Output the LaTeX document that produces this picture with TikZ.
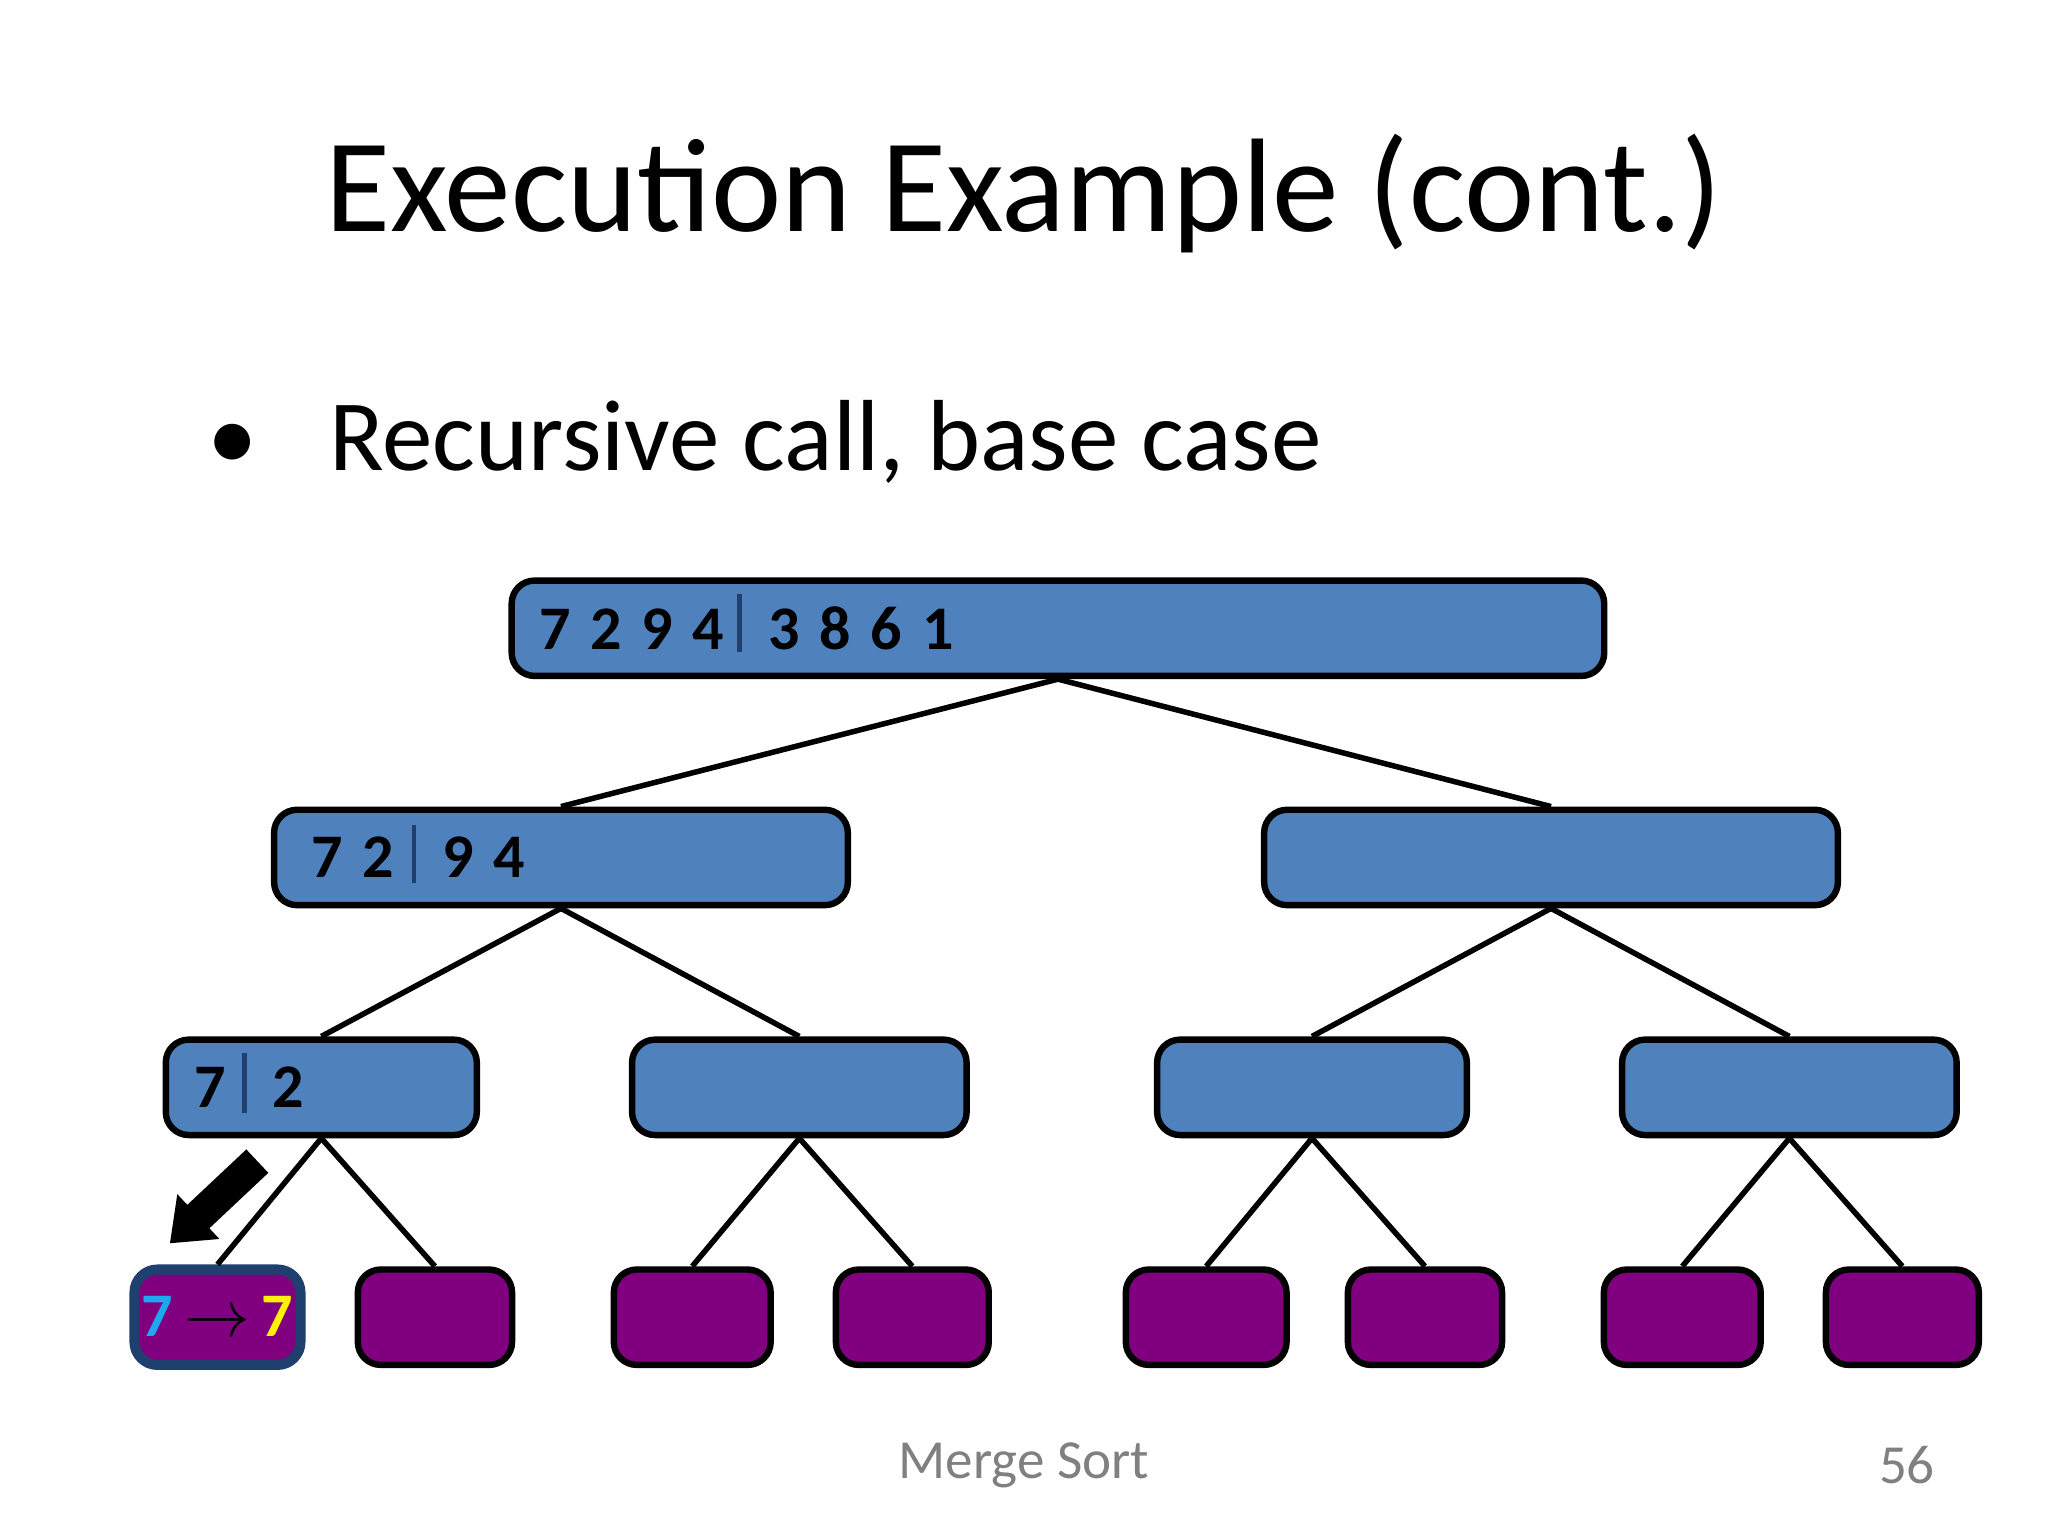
\documentclass[tikz,border=0pt]{standalone}
\usepackage{fontspec}
\setmainfont{Carlito}
\usetikzlibrary{arrows.meta}
\definecolor{boxblue}{HTML}{4F81BD}
\definecolor{leafpurple}{HTML}{800080}
\definecolor{cyanish}{HTML}{1EA8F0}
\definecolor{divblue}{HTML}{1F3F6F}
\newcommand{\dsp}{\hspace{0.15cm}}
\begin{document}
\begin{tikzpicture}[x=0.01cm,y=-0.01cm,
  bbox/.style={draw=black,line width=1.4pt,fill=boxblue,rounded corners=5pt,minimum height=0.73cm,inner sep=0pt},
  leaf/.style={draw=black,line width=1.4pt,fill=leafpurple,rounded corners=5pt,minimum height=0.73cm,inner sep=0pt},
  num/.style={anchor=base west,inner sep=0pt,font=\fontsize{13.5}{14}\selectfont\bfseries},
  edge/.style={line width=1.2pt},
  divider/.style={draw=divblue,line width=1pt}]
\useasboundingbox (0,0) rectangle (1568,1176);
\node[font=\fontsize{29}{34}\selectfont] (title) at (784,148) {Execution Example (cont.)};
\node[anchor=base west,inner sep=0pt,font=\fontsize{22}{26}\selectfont] (bul) at (158,360) {\textbullet\hspace{0.55cm}Recursive call, base case};
% boxes
\node[bbox,minimum width=8.36cm] (r) at (810,481) {};
\node[bbox,minimum width=4.39cm] (a) at (429.5,656.5) {};
\node[bbox,minimum width=4.39cm] (b) at (1187.5,656.5) {};
\node[bbox,minimum width=2.38cm] (aa) at (246,832.5) {};
\node[bbox,minimum width=2.56cm] (ab) at (612,832.5) {};
\node[bbox,minimum width=2.37cm] (ba) at (1004.5,832.5) {};
\node[bbox,minimum width=2.56cm] (bb) at (1370,832.5) {};
\node[leaf,draw=divblue,line width=2.2pt,minimum width=1.27cm] (l1) at (166.5,1008.5) {};
\node[leaf,minimum width=1.18cm] (l2) at (333,1008.5) {};
\node[leaf,minimum width=1.20cm] (l3) at (530,1008.5) {};
\node[leaf,minimum width=1.17cm] (l4) at (698.5,1008.5) {};
\node[leaf,minimum width=1.23cm] (l5) at (923.5,1008.5) {};
\node[leaf,minimum width=1.18cm] (l6) at (1091,1008.5) {};
\node[leaf,minimum width=1.20cm] (l7) at (1288,1008.5) {};
\node[leaf,minimum width=1.17cm] (l8) at (1456.5,1008.5) {};
% edges
\draw[edge] (r.south) -- (a.north);
\draw[edge] (r.south) -- (b.north);
\draw[edge] (a.south) -- (aa.north);
\draw[edge] (a.south) -- (ab.north);
\draw[edge] (b.south) -- (ba.north);
\draw[edge] (b.south) -- (bb.north);
\draw[edge] (aa.south) -- (l1.north);
\draw[edge] (aa.south) -- (l2.north);
\draw[edge] (ab.south) -- (l3.north);
\draw[edge] (ab.south) -- (l4.north);
\draw[edge] (ba.south) -- (l5.north);
\draw[edge] (ba.south) -- (l6.north);
\draw[edge] (bb.south) -- (l7.north);
\draw[edge] (bb.south) -- (l8.north);
% texts
\node[num] (t1) at (412,497) {7\dsp 2\dsp 9\dsp 4};
\node[num] (t2) at (588,497) {3\dsp 8\dsp 6\dsp 1};
\draw[divider] (566,455) -- (566,499);
\node[num] (t3) at (238,672) {7\dsp 2};
\node[num] (t4) at (338,672) {9\dsp 4};
\draw[divider] (317,632) -- (317,676);
\node[num] (t5) at (148,848) {7};
\node[num] (t6) at (208,848) {2};
\draw[divider] (187,806) -- (187,852);
\node[num,anchor=base] (t7) at (166.5,1023) {\textcolor{cyanish}{7}$\,\rightarrow\,$\textcolor{yellow}{7}};
% arrow
\coordinate (ar1) at (197,889);
\coordinate (ar2) at (130,952);
\draw[line width=7pt,-{Triangle[length=0.3cm,width=0.45cm]}] (ar1) -- (ar2);
% footer
\node[text=gray,font=\fontsize{12}{14}\selectfont] (f1) at (784,1122) {Merge Sort};
\node[text=gray,font=\fontsize{12}{14}\selectfont] (f2) at (1460,1122) {56};
\end{tikzpicture}
\end{document}
